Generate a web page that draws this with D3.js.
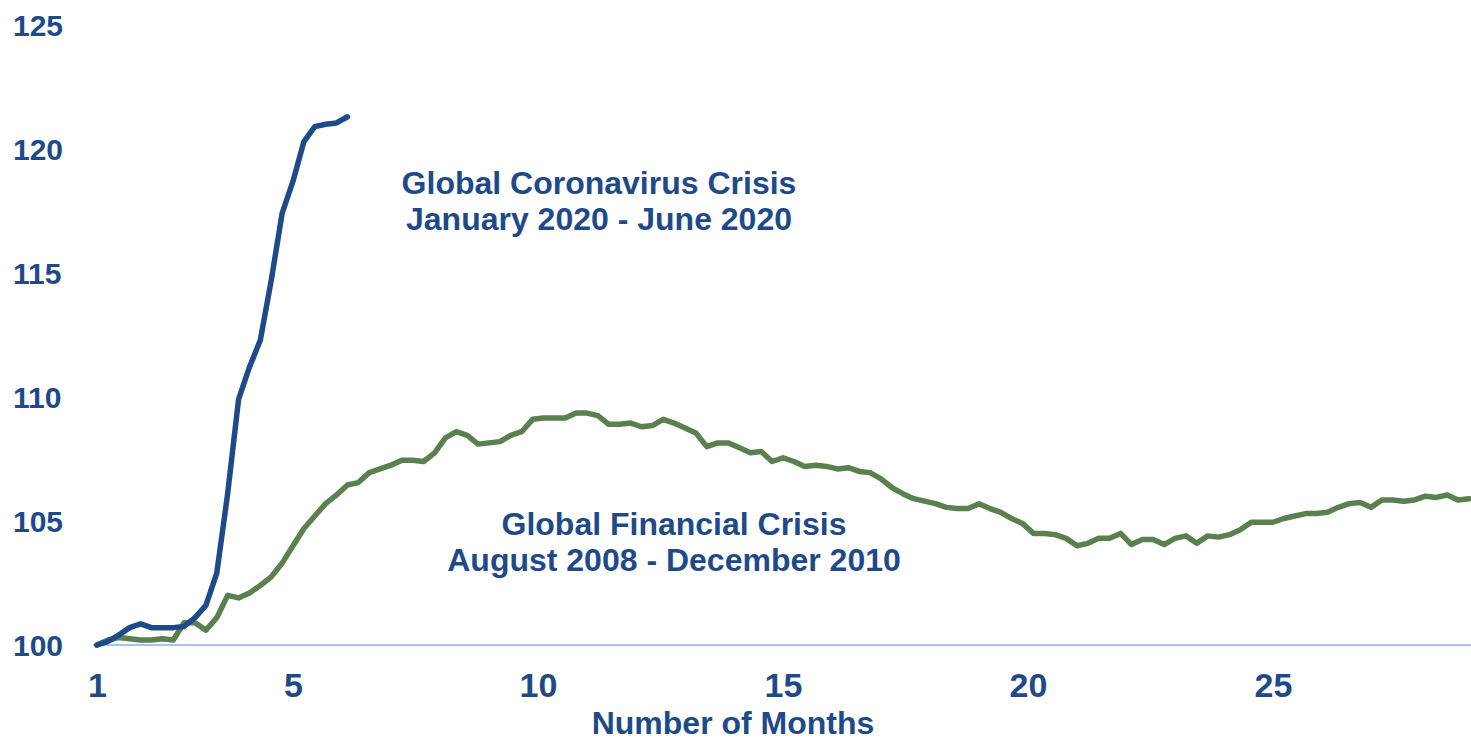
<!DOCTYPE html>
<html>
<head>
  <title>Crisis comparison</title>
  <script src="https://d3js.org/d3.v7.min.js"></script>
  <style>
    body { margin: 0; background: #fff; }
    text { font-family: "Liberation Sans", Arial, sans-serif; font-weight: bold; fill: #1f4a8a; }
  </style>
</head>
<body>

  <div id="chart"></div>
  <script type="text/javascript">

  // index levels, first month = 100, about 4.5 observations per month
  var covidValues = [100.0, 100.15, 100.4, 100.7, 100.85, 100.7, 100.7, 100.7, 100.75, 101.1,
    101.6, 102.9, 106.1, 109.9, 111.2, 112.3, 114.7, 117.4, 118.7, 120.3,
    120.9, 121.0, 121.05, 121.3];

  var gfcValues = [100.0, 100.2, 100.3, 100.25, 100.2, 100.2, 100.25, 100.2, 100.9, 100.9,
    100.6, 101.1, 102.0, 101.9, 102.1, 102.4, 102.75, 103.3, 104.0, 104.7,
    105.2, 105.7, 106.05, 106.45, 106.55, 106.95, 107.1, 107.25, 107.45, 107.45,
    107.4, 107.75, 108.35, 108.6, 108.45, 108.1, 108.15, 108.2, 108.45, 108.6,
    109.1, 109.15, 109.15, 109.15, 109.35, 109.35, 109.25, 108.9, 108.9, 108.95,
    108.8, 108.85, 109.1, 108.95, 108.75, 108.55, 108.0, 108.15, 108.15, 107.95,
    107.75, 107.8, 107.4, 107.55, 107.4, 107.2, 107.25, 107.2, 107.1, 107.15,
    107.0, 106.95, 106.7, 106.35, 106.1, 105.9, 105.8, 105.7, 105.55, 105.5,
    105.5, 105.7, 105.5, 105.35, 105.1, 104.9, 104.5, 104.5, 104.45, 104.3,
    104.0, 104.1, 104.3, 104.3, 104.5, 104.05, 104.25, 104.25, 104.05, 104.3,
    104.4, 104.1, 104.4, 104.35, 104.45, 104.65, 104.95, 104.95, 104.95, 105.1,
    105.2, 105.3, 105.3, 105.35, 105.55, 105.7, 105.75, 105.55, 105.85, 105.85,
    105.8, 105.85, 106.0, 105.95, 106.05, 105.85, 105.9];

  var obsPerMonth = 4.5;
  var xTicks = [1, 5, 10, 15, 20, 25];
  var yTicks = [100, 105, 110, 115, 120, 125];

  var width = 1471, height = 741;

  var x = d3.scaleLinear().domain([1, 29]).range([97, 1469]);
  var y = d3.scaleLinear().domain([100, 125]).range([645, 25]);

  var svg = d3.select("#chart").append("svg")
    .attr("width", width).attr("height", height);

  // baseline
  svg.append("line")
    .attr("x1", x(0.92)).attr("x2", width)
    .attr("y1", y(100)).attr("y2", y(100))
    .attr("stroke", "#a8c4ee").attr("stroke-width", 2);

  // y tick labels, left aligned
  svg.selectAll(".ytick").data(yTicks).enter().append("text")
    .attr("class", "ytick")
    .attr("x", 13)
    .attr("y", function(d){ return y(d) + 11; })
    .style("font-size", "30px")
    .text(function(d){ return d; });

  // x axis labels
  var xAxis = d3.axisBottom(x).tickValues(xTicks).tickSize(0).tickPadding(0);
  var gx = svg.append("g").attr("transform", "translate(0," + 665 + ")").call(xAxis);
  gx.select(".domain").remove();
  gx.selectAll("text")
    .attr("dy", null)
    .attr("y", 32)
    .style("font-size", "34px")
    .attr("fill", null);
  gx.attr("font-family", null).attr("font-size", null);

  svg.append("text")
    .attr("x", 733).attr("y", 734)
    .attr("text-anchor", "middle")
    .style("font-size", "32px")
    .text("Number of Months");

  var line = d3.line()
    .x(function(d, i){ return x(1 + i / obsPerMonth); })
    .y(function(d){ return y(d); });

  svg.append("path").datum(gfcValues)
    .attr("d", line)
    .attr("fill", "none")
    .attr("stroke", "#5b804f")
    .attr("stroke-width", 5.5)
    .attr("stroke-linejoin", "round")
    .attr("stroke-linecap", "round");

  svg.append("path").datum(covidValues)
    .attr("d", line)
    .attr("fill", "none")
    .attr("stroke", "#1f4a8a")
    .attr("stroke-width", 5.5)
    .attr("stroke-linejoin", "round")
    .attr("stroke-linecap", "round");

  // annotations
  var notes = [
    { x: 599, y: 194, lines: ["Global Coronavirus Crisis", "January 2020 - June 2020"] },
    { x: 674, y: 535, lines: ["Global Financial Crisis", "August 2008 - December 2010"] }
  ];

  notes.forEach(function(n){
    var t = svg.append("text")
      .attr("x", n.x).attr("y", n.y)
      .attr("text-anchor", "middle")
      .style("font-size", "32px");
    n.lines.forEach(function(s, i){
      t.append("tspan").attr("x", n.x).attr("dy", i == 0 ? 0 : 36).text(s);
    });
  });

  </script>

</body>
</html>
